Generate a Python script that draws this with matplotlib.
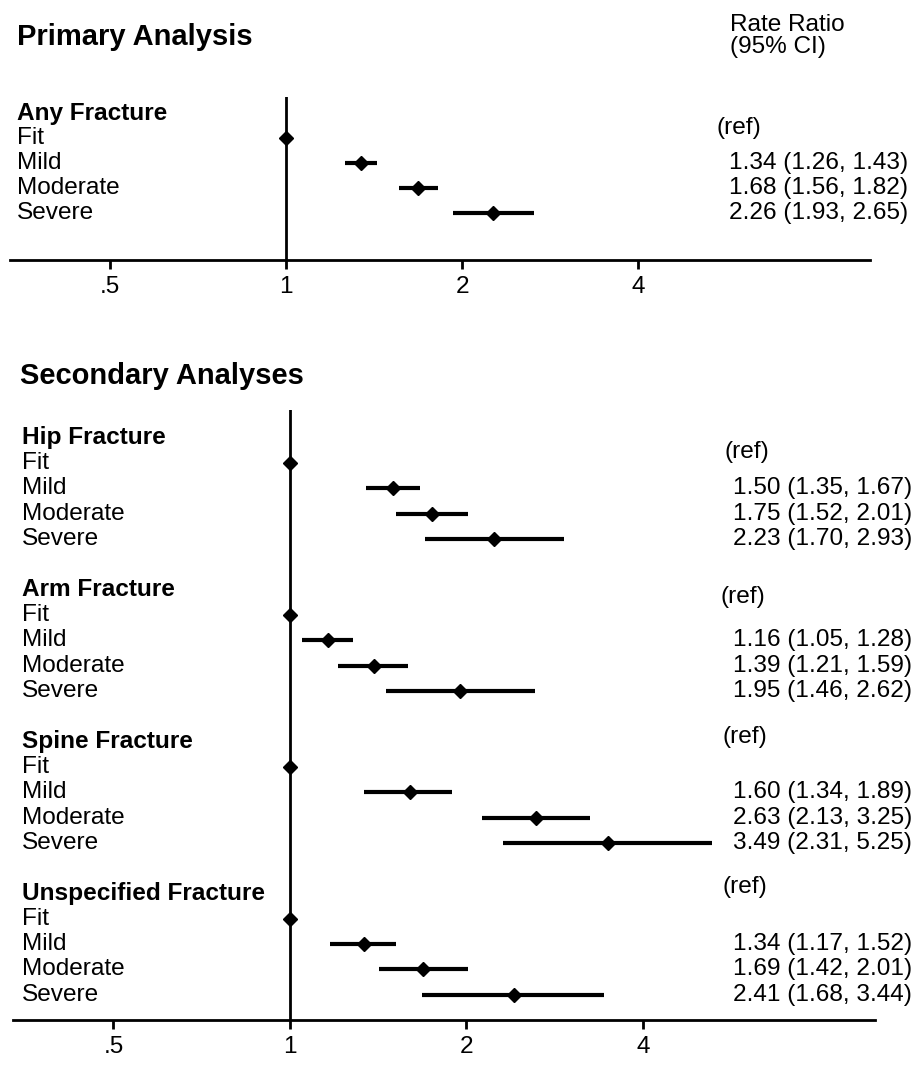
import matplotlib
matplotlib.use('Agg')
import matplotlib.pyplot as plt
import matplotlib.transforms as mtransforms

plt.rcParams['font.family'] = ['Liberation Sans', 'DejaVu Sans']

groups = ['Any Fracture', 'Hip Fracture', 'Arm Fracture', 'Spine Fracture', 'Unspecified Fracture']
levels = ['Fit', 'Mild', 'Moderate', 'Severe']

rr = [
    [1.00, 1.34, 1.68, 2.26],
    [1.00, 1.50, 1.75, 2.23],
    [1.00, 1.16, 1.39, 1.95],
    [1.00, 1.60, 2.63, 3.49],
    [1.00, 1.34, 1.69, 2.41],
]
lo = [
    [1.00, 1.26, 1.56, 1.93],
    [1.00, 1.35, 1.52, 1.70],
    [1.00, 1.05, 1.21, 1.46],
    [1.00, 1.34, 2.13, 2.31],
    [1.00, 1.17, 1.42, 1.68],
]
hi = [
    [1.00, 1.43, 1.82, 2.65],
    [1.00, 1.67, 2.01, 2.93],
    [1.00, 1.28, 1.59, 2.62],
    [1.00, 1.89, 3.25, 5.25],
    [1.00, 1.52, 2.01, 3.44],
]

ticks = [0.5, 1, 2, 4]
tick_labels = ['.5', '1', '2', '4']

W, H = 916, 1088
fs = 17.6
fig = plt.figure(figsize=(W / 100, H / 100), dpi=100)


def px_axes(left, right, top, bottom):
    return fig.add_axes([left / W, 1 - bottom / H, (right - left) / W, (bottom - top) / H])


def style_axis(ax, ylim):
    ax.set_xscale('log')
    ax.set_xlim(0.337, 9.96)
    ax.set_ylim(*ylim)
    for s in ['top', 'left', 'right']:
        ax.spines[s].set_visible(False)
    ax.spines['bottom'].set_linewidth(2)
    ax.set_yticks([])
    ax.set_xticks(ticks)
    ax.set_xticklabels(tick_labels)
    ax.minorticks_off()
    ax.tick_params(axis='x', length=6.5, width=2, direction='out', pad=5, labelsize=fs)
    ax.axvline(1, color='black', lw=2, zorder=1)
    ax.patch.set_alpha(0)


def draw_group(ax, gi, row0, lab_x, val_x):
    tr = mtransforms.blended_transform_factory(fig.transFigure, ax.transData)
    fig.text(lab_x / W, row0, groups[gi], transform=tr, fontsize=fs,
             fontweight='bold', va='center', ha='left')
    for k, lev in enumerate(levels):
        y = row0 + k + 1
        fig.text(lab_x / W, y, lev, transform=tr, fontsize=fs, va='center', ha='left')
        if k > 0:
            ax.plot([lo[gi][k], hi[gi][k]], [y, y], color='black', lw=3,
                    solid_capstyle='butt', zorder=2)
            fig.text(val_x / W, y, f'{rr[gi][k]:.2f} ({lo[gi][k]:.2f}, {hi[gi][k]:.2f})',
                     transform=tr, fontsize=fs, va='center', ha='right')
        ax.plot(rr[gi][k], y, marker='D', color='black', markersize=7, zorder=3)
    return tr


# primary panel
ax1 = px_axes(10, 870, 97, 260)
style_axis(ax1, (5.88, -0.64))
tr1 = draw_group(ax1, 0, 0, 17, 908)
fig.text(717 / W, 0.6, '(ref)', transform=tr1, fontsize=fs, va='center', ha='left')

# secondary panels
ax2 = px_axes(13, 875, 410, 1020)
style_axis(ax2, (23.0, -1.1))
ref_dy = [0.55, 0.3, -0.2, -0.24]
ref_x = [725, 721, 722, 722]
for j in range(1, 5):
    row0 = 6 * (j - 1)
    tr2 = draw_group(ax2, j, row0, 22, 912)
    fig.text(ref_x[j - 1] / W, row0 + ref_dy[j - 1], '(ref)', transform=tr2,
             fontsize=fs, va='center', ha='left')

fig.text(17 / W, 1 - 37 / H, 'Primary Analysis', fontsize=21, fontweight='bold',
         va='center', ha='left')
fig.text(20 / W, 1 - 376 / H, 'Secondary Analyses', fontsize=21, fontweight='bold',
         va='center', ha='left')
fig.text(730 / W, 1 - 14 / H, 'Rate Ratio\n(95% CI)', fontsize=fs, va='top', ha='left',
         linespacing=1.0)

fig.savefig('out.png', dpi=100)
